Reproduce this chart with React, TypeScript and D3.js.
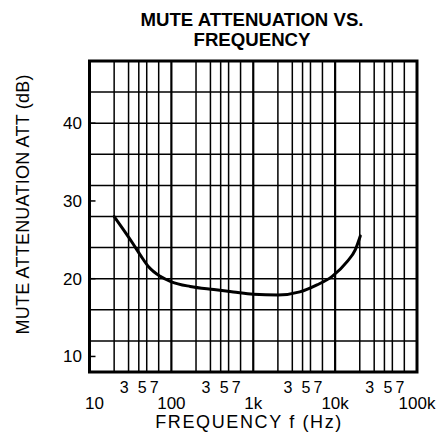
import React from "react";
import * as d3 from "d3";

// curve: frequency (Hz) and mute attenuation (dB)
const freqs = [20, 34, 42, 53, 73, 100, 170, 330, 570, 1000, 2000, 3700, 6000, 9200, 14000, 17600, 20300];
const attenuation = [28, 24.5, 23.0, 21.5, 20.3, 19.6, 19.0, 18.6, 18.3, 18.0, 17.9, 18.3, 19.2, 20.3, 22.2, 23.7, 25.5];

const decades = [10, 100, 1000, 10000, 100000];
const decadeLabels = ["10", "100", "1k", "10k", "100k"];
const gridSteps = [2, 3, 4, 5, 7];
const minorLabels = [3, 5, 7];
const yTicks = [10, 20, 30, 40];
const yGridStep = 4;

const W = 443;
const H = 435;
const m = { left: 89.5, right: 26, top: 61, bottom: 63 };
const font = "'Liberation Sans', Arial, Helvetica, sans-serif";

export default function App() {
  const x = d3.scaleLog().domain([10, 100000]).range([m.left, W - m.right]);
  const y = d3.scaleLinear().domain([8, 48]).range([H - m.bottom, m.top]);

  const vLines: { v: number; major: boolean }[] = [];
  decades.slice(0, -1).forEach((d) => {
    vLines.push({ v: d, major: true });
    gridSteps.forEach((s) => vLines.push({ v: d * s, major: false }));
  });
  const hLines = d3.range(8 + yGridStep, 48, yGridStep);

  const line = d3
    .line<number>()
    .x((_, i) => x(freqs[i]))
    .y((d) => y(d))
    .curve(d3.curveMonotoneX);

  const [x0, x1] = x.range();
  const [y0, y1] = y.range();

  return (
    <svg width={W} height={H} style={{ position: "absolute", left: 0, top: 0, background: "#fff" }} fontFamily={font}>
      <rect width={W} height={H} fill="#fff" />
      <text x={252} y={26} textAnchor="middle" fontSize={18} fontWeight="bold" textLength={223} lengthAdjust="spacingAndGlyphs">
        MUTE ATTENUATION VS.
      </text>
      <text x={252} y={46} textAnchor="middle" fontSize={18} fontWeight="bold" textLength={117} lengthAdjust="spacingAndGlyphs">
        FREQUENCY
      </text>

      {/* grid */}
      {hLines.map((v) => (
        <line key={"h" + v} x1={x0} x2={x1} y1={y(v)} y2={y(v)} stroke="#000" strokeWidth={1.5} />
      ))}
      {vLines.map((d, i) => (
        <line key={"v" + i} x1={x(d.v)} x2={x(d.v)} y1={y0} y2={y1} stroke="#000" strokeWidth={d.major ? 2.2 : 1.5} />
      ))}
      {yTicks.map((t) => (
        <line key={"t" + t} x1={x0} x2={x0 + 6} y1={y(t)} y2={y(t)} stroke="#000" strokeWidth={1.5} />
      ))}
      <rect x={x0} y={y1} width={x1 - x0} height={y0 - y1} fill="none" stroke="#000" strokeWidth={3} />

      <path d={line(attenuation) || ""} fill="none" stroke="#000" strokeWidth={3} strokeLinejoin="round" strokeLinecap="round" />

      {/* y axis */}
      {yTicks.map((t) => (
        <text key={"yl" + t} x={82} y={y(t) + 6} textAnchor="end" fontSize={17}>
          {t}
        </text>
      ))}
      <text
        transform={`translate(28.5, ${(y0 + y1) / 2 - 12}) rotate(-90)`}
        textAnchor="middle"
        fontSize={18}
        textLength={260}
        lengthAdjust="spacing"
      >
        MUTE ATTENUATION ATT (dB)
      </text>

      {/* x axis */}
      {decades.map((d, i) => (
        <text key={"xl" + d} x={x(d) + (i === 0 ? 5 : 0)} y={409} textAnchor="middle" fontSize={17}>
          {decadeLabels[i]}
        </text>
      ))}
      {decades.slice(0, -1).map((d) =>
        minorLabels.map((s) => (
          <text key={"ml" + d + s} x={x(d * s)} y={393} textAnchor="end" fontSize={16}>
            {s}
          </text>
        ))
      )}
      <text x={(x0 + x1) / 2 - 5} y={428} textAnchor="middle" fontSize={18} textLength={186} lengthAdjust="spacing">
        FREQUENCY f (Hz)
      </text>
    </svg>
  );
}
